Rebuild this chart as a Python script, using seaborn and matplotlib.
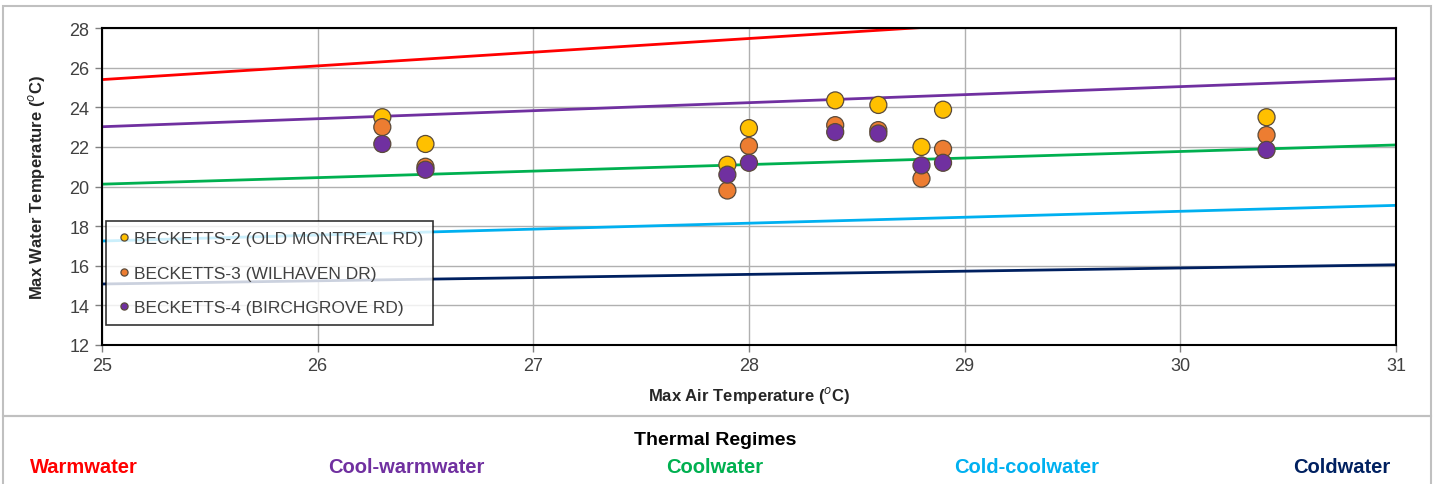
import numpy as np
import pandas as pd
import seaborn as sns
import matplotlib.pyplot as plt
from matplotlib.patches import Rectangle

# site data: max air temp vs max water temp
air = [26.3, 26.5, 27.9, 28.0, 28.4, 28.6, 28.8, 28.9, 30.4]
b2 = [23.5, 22.15, 21.1, 22.95, 24.35, 24.12, 22.0, 23.88, 23.5]
b3 = [23.0, 21.0, 19.8, 22.05, 23.1, 22.85, 20.4, 21.9, 22.6]
b4 = [22.15, 20.85, 20.6, 21.2, 22.75, 22.68, 21.07, 21.2, 21.85]
sites = ["BECKETTS-2 (OLD MONTREAL RD)", "BECKETTS-3 (WILHAVEN DR)", "BECKETTS-4 (BIRCHGROVE RD)"]
site_colors = ["#FFC000", "#ED7D31", "#7030A0"]

# thermal regime boundary lines (water temp at air temp 25 and 31)
regime_x = [25, 31]
regimes = ["Warmwater", "Cool-warmwater", "Coolwater", "Cold-coolwater", "Coldwater"]
regime_start = [25.4, 23.02, 20.12, 17.25, 15.08]
regime_end = [29.55, 25.45, 22.1, 19.05, 16.05]
regime_colors = ["#FF0000", "#7030A0", "#00B050", "#00B0F0", "#002060"]

sns.set_style("white")
plt.rcParams['font.family'] = ['Liberation Sans', 'DejaVu Sans']

pts = pd.DataFrame({
    "air": air * 3,
    "water": b2 + b3 + b4,
    "site": [sites[0]] * len(air) + [sites[1]] * len(air) + [sites[2]] * len(air),
})
lines = pd.DataFrame({
    "air": regime_x * len(regimes),
    "water": [v for s, e in zip(regime_start, regime_end) for v in (s, e)],
    "regime": [r for r in regimes for _ in regime_x],
})

fig = plt.figure(figsize=(14.4, 4.85), dpi=100)
ax = fig.add_axes([0.0708, 0.2866, 0.8986, 0.6534])

sns.lineplot(data=lines, x="air", y="water", hue="regime", palette=dict(zip(regimes, regime_colors)),
             linewidth=2, legend=False, ax=ax, zorder=2)
sns.scatterplot(data=pts, x="air", y="water", hue="site", palette=dict(zip(sites, site_colors)),
                s=150, edgecolor="#5a4a3a", linewidth=0.9, ax=ax, zorder=3)

ax.set_xlim(25, 31)
ax.set_ylim(12, 28)
ax.set_xticks(range(25, 32))
ax.set_yticks(range(12, 29, 2))
ax.grid(True, color="#b0b0b0", linewidth=1)
ax.set_axisbelow(True)
for sp in ax.spines.values():
    sp.set_color("black")
    sp.set_linewidth(1.5)
ax.tick_params(axis="both", labelsize=13, colors="#808080", labelcolor="#404040", length=5, width=1,
               direction="out", left=True, bottom=True, pad=4)
ax.set_xlabel("Max Air Temperature ($^{o}$C)", fontsize=12, fontweight="bold", labelpad=7)
ax.set_ylabel("Max Water Temperature ($^{o}$C)", fontsize=12, fontweight="bold", labelpad=16)

leg = ax.legend(loc="upper left", bbox_to_anchor=(0.003, 0.392), frameon=True, fancybox=False,
                fontsize=12.5, markerscale=0.42, handletextpad=0.1, borderpad=0.6,
                labelspacing=1.1, handlelength=0.9, borderaxespad=0)
leg.get_frame().set_edgecolor("black")
leg.get_frame().set_linewidth(1.2)
for t in leg.get_texts():
    t.set_color("#404040")

# outer boxes
fig.patches.append(Rectangle((0.002, 0.14), 0.992, 0.845, transform=fig.transFigure,
                             fill=False, edgecolor="#c0c0c0", linewidth=1.5))
fig.patches.append(Rectangle((0.002, -0.01), 0.992, 0.15, transform=fig.transFigure,
                             fill=False, edgecolor="#c0c0c0", linewidth=1.5))

fig.text(0.497, 0.092, "Thermal Regimes", ha="center", va="center", fontsize=14, fontweight="bold",
         color="black")
label_x = [0.058, 0.282, 0.496, 0.713, 0.932]
for lx, name, c in zip(label_x, regimes, regime_colors):
    fig.text(lx, 0.037, name, ha="center", va="center", fontsize=14.5, fontweight="bold", color=c)

plt.savefig("out.png", dpi=100)
